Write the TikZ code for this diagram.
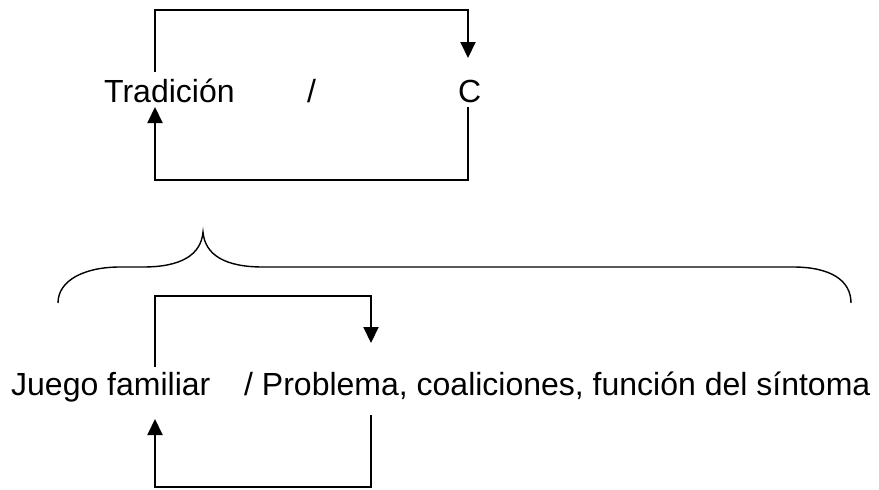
\documentclass[tikz,border=0pt]{standalone}
\usepackage{fontspec}
\setmainfont{Liberation Sans}
\usetikzlibrary{arrows.meta}
\begin{document}
\begin{tikzpicture}[x=1pt,y=-1pt,
  lbl/.style={inner sep=0pt, anchor=base west, font=\fontsize{32}{38}\selectfont},
  conn/.style={line width=2pt},
  arr/.style={conn,-{Triangle[width=15pt,length=16pt]}},
  bracestyle/.style={line width=1.4pt}]
\useasboundingbox (0,0) rectangle (879,490);
% texts
\node[lbl] (trad) at (104,102) {Tradición};
\node[lbl] (sl1) at (307,102) {/};
\node[lbl] (c) at (458,102) {C};
\node[lbl] (juego) at (11,395) {Juego familiar};
\node[lbl] (prob) at (244,395) {/ Problema, coaliciones, función del síntoma};
% top loop
\coordinate (ta) at (155,72);
\coordinate (tb) at (468,58);
\coordinate (tc) at (468,107);
\coordinate (td) at (155,107);
\draw[arr] (ta) -- ++(0,-62) -| (tb);
\draw[arr] (tc) -- ++(0,73) -| (td);
% brace
\draw[bracestyle] (58,303) .. controls (58,280) and (85,267) .. (120,267) -- (143,267)
  .. controls (181,267) and (201,255) .. (203,232)
  .. controls (205,255) and (225,267) .. (263,267) -- (793,267)
  .. controls (830,267) and (851,280) .. (851,303);
% bottom loop
\coordinate (ba) at (155,367);
\coordinate (bb) at (371,343);
\coordinate (bc) at (371,415);
\coordinate (bd) at (155,419);
\draw[arr] (ba) -- ++(0,-71) -| (bb);
\draw[arr] (bc) -- ++(0,72) -| (bd);
\end{tikzpicture}
\end{document}
